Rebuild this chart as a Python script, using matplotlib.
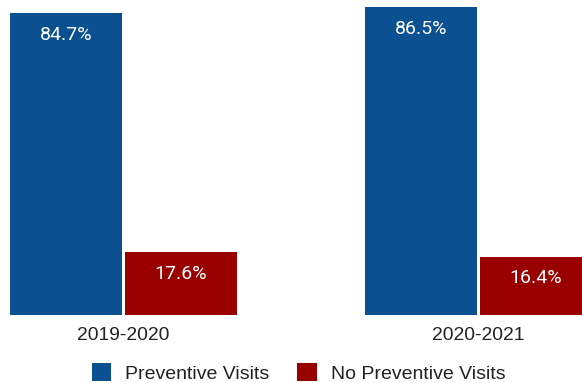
import matplotlib
matplotlib.use("Agg")
import matplotlib.pyplot as plt
import numpy as np
from matplotlib.patches import Patch

periods = ["2019-2020", "2020-2021"]
preventive = [84.7, 86.5]
no_preventive = [17.6, 16.4]
series_names = ["Preventive Visits", "No Preventive Visits"]

BLUE = "#0b5091"
RED = "#990000"
INK = "#222222"

fig = plt.figure(figsize=(5.82, 3.83), dpi=100)
ax = fig.add_axes([0, 68 / 383, 1, 315 / 383])

x = np.arange(len(periods))
width = 0.314
off = 0.1618
b1 = ax.bar(x - off, preventive, width, color=BLUE, label=series_names[0])
b2 = ax.bar(x + off, no_preventive, width, color=RED, label=series_names[1])

for bars, vals in ((b1, preventive), (b2, no_preventive)):
    for rect, v in zip(bars, vals):
        ax.annotate(f"{v}%", (rect.get_x() + rect.get_width() / 2, v),
                    xytext=(0, -15.5), textcoords="offset points",
                    ha="center", va="center", color="white",
                    fontsize=14, family="Roboto", fontweight="normal")

ax.set_xlim(-0.347, 1.291)
ax.set_ylim(0, 315 / 3.56)
ax.set_xticks(x)
ax.set_xticklabels(periods, fontsize=13.9, color=INK, family="Liberation Sans")
ax.tick_params(axis="x", length=0, pad=9)
ax.set_yticks([])
for s in ax.spines.values():
    s.set_visible(False)

handles = [Patch(facecolor=BLUE), Patch(facecolor=RED)]
fig.legend(handles, series_names, loc="center", bbox_to_anchor=(0.513, 10 / 383),
           ncol=2, frameon=False, prop={"family": "Liberation Sans", "size": 14},
           handlelength=1.0, handleheight=1.0, handletextpad=0.7,
           columnspacing=1.45, borderpad=0, labelcolor=INK)

fig.savefig("out.png", dpi=100, facecolor="white")
